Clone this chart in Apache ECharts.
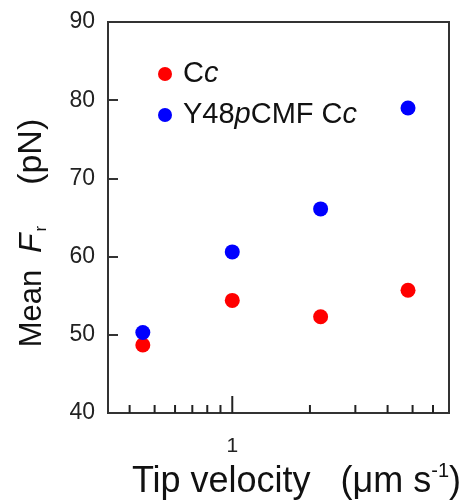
<!DOCTYPE html>
<html>
<head>
<meta charset="utf-8">
<script src="https://cdn.jsdelivr.net/npm/echarts@6/dist/echarts.min.js"></script>
<style>html,body{margin:0;padding:0;background:#fff;}#c{width:462px;height:502px;}</style>
</head>
<body>
<div id="c"></div>
<script>
// Data
var seriesNames = ['Cc', 'Y48pCMF Cc'];
var velocity = [0.45, 1, 2.2, 4.8];            // tip velocity (µm s-1)
var forceCc = [48.7, 54.4, 52.3, 55.7];         // Mean Fr (pN), Cc
var forceY48 = [50.3, 60.6, 66.1, 79.0];        // Mean Fr (pN), Y48pCMF Cc
var xMinorTicks = [0.4, 0.5, 0.6, 0.7, 0.8, 0.9, 2, 3, 4, 5, 6];
var xMajorTicks = [1];
var xLabelValues = [1];
var yTicks = [40, 50, 60, 70, 80, 90];

var FONT = '"Liberation Sans", Arial, sans-serif';
var chart = echarts.init(document.getElementById('c'), null, {renderer: 'canvas'});

function pairs(xs, ys) { return xs.map(function (x, i) { return [x, ys[i]]; }); }
var tickData = xMinorTicks.map(function (v) { return [v, 0]; })
  .concat(xMajorTicks.map(function (v) { return [v, 1]; }));

var legendFmt = {
  'Cc': 'C{i|c}',
  'Y48pCMF Cc': 'Y48{i|p}CMF C{i|c}'
};

chart.setOption({
  animation: false,
  textStyle: {fontFamily: FONT},
  grid: {left: 108, right: 13, top: 22, bottom: 89, show: true, borderColor: '#333', borderWidth: 2,
    backgroundColor: 'transparent', containLabel: false, outerBoundsMode: 'none'},
  legend: {
    orient: 'vertical',
    left: 153,
    top: 52,
    itemWidth: 14,
    itemHeight: 14,
    itemGap: 7,
    icon: 'circle',
    data: seriesNames,
    formatter: function (n) { return legendFmt[n]; },
    textStyle: {
      fontSize: 29, color: '#111', fontFamily: FONT, lineHeight: 34, padding: [0, 0, 0, 6],
      rich: {i: {fontSize: 29, fontStyle: 'italic', color: '#111', fontFamily: FONT, lineHeight: 34}}
    }
  },
  xAxis: {
    type: 'log',
    logBase: 10,
    min: 0.3298,
    max: 6.92,
    axisLine: {show: true, lineStyle: {color: '#333', width: 2}},
    axisTick: {show: false},
    splitLine: {show: false},
    minorTick: {show: false},
    axisLabel: {
      fontSize: 21, color: '#222', margin: 23, fontFamily: FONT,
      showMinLabel: false, showMaxLabel: false,
      formatter: function (v) {
        for (var i = 0; i < xLabelValues.length; i++) {
          if (Math.abs(v - xLabelValues[i]) < 1e-6) return String(xLabelValues[i]);
        }
        return '';
      }
    },
    name: 'Tip velocity   (μm s{sup|-1})',
    nameLocation: 'middle',
    nameGap: 27,
    nameTextStyle: {
      fontSize: 36, color: '#111', fontFamily: FONT, padding: [0, 0, 0, 36], lineHeight: 40,
      rich: {sup: {fontSize: 20, color: '#111', fontFamily: FONT, verticalAlign: 'top', lineHeight: 40, padding: [0, 0, 14, 0]}}
    }
  },
  yAxis: {
    type: 'value',
    min: 40, max: 90, interval: 10,
    axisLine: {show: true, lineStyle: {color: '#333', width: 2}},
    axisTick: {show: true, inside: true, length: 10, lineStyle: {color: '#333', width: 2}},
    splitLine: {show: false},
    axisLabel: {fontSize: 23, color: '#222', margin: 13, fontFamily: FONT,
      formatter: function (v) { return yTicks.indexOf(v) >= 0 ? String(v) : ''; }},
    name: 'Mean {i|F}{sub|r}{u|(pN)}',
    nameLocation: 'middle',
    nameGap: 58,
    nameRotate: 90,
    nameTextStyle: {
      fontSize: 31, color: '#111', fontFamily: FONT, lineHeight: 36, padding: [0, 31, 0, 0],
      rich: {
        i: {fontSize: 32, fontStyle: 'italic', color: '#111', fontFamily: FONT, lineHeight: 36, padding: [0, 0, 0, 8]},
        sub: {fontSize: 17, color: '#111', fontFamily: FONT, verticalAlign: 'bottom', lineHeight: 36, padding: [10, 41, 0, 2]},
        u: {fontSize: 34, color: '#111', fontFamily: FONT, lineHeight: 36}
      }
    }
  },
  series: [
    {
      name: 'Cc', type: 'scatter', symbol: 'circle', symbolSize: 15,
      itemStyle: {color: '#ff0000', opacity: 1},
      data: pairs(velocity, forceCc), z: 3
    },
    {
      name: 'Y48pCMF Cc', type: 'scatter', symbol: 'circle', symbolSize: 15,
      itemStyle: {color: '#0000ff', opacity: 1},
      data: pairs(velocity, forceY48), z: 3
    },
    {
      name: 'xticks', type: 'custom', silent: true, clip: false, z: 4,
      data: tickData,
      encode: {x: 0},
      renderItem: function (params, api) {
        var p = api.coord([api.value(0), 40]);
        var len = api.value(1) ? 17 : 8;
        return {
          type: 'line',
          shape: {x1: p[0], y1: p[1], x2: p[0], y2: p[1] - len},
          style: {stroke: '#222', lineWidth: 2}
        };
      }
    }
  ]
});
</script>
</body>
</html>
